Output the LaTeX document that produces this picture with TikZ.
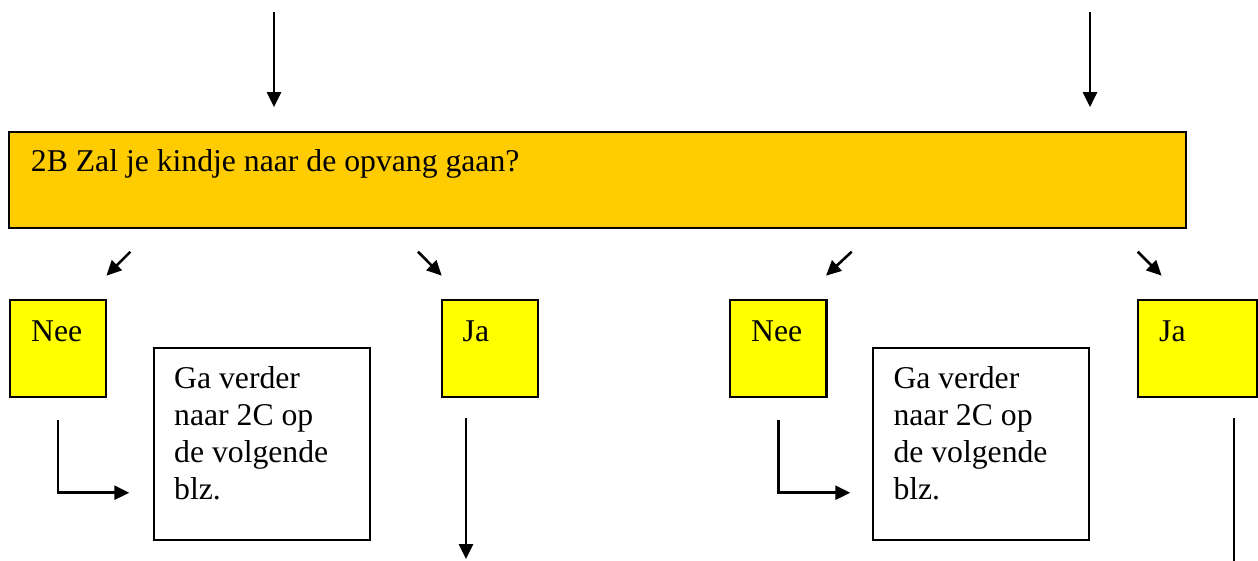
\documentclass[tikz,border=0pt]{standalone}
\usepackage{fontspec}
\setmainfont{Liberation Serif}
\usetikzlibrary{arrows.meta}
\definecolor{orangebox}{HTML}{FFCC00}
\definecolor{yellowbox}{HTML}{FFFF00}
\begin{document}
\begin{tikzpicture}[x=1pt,y=-1pt,
  boxbase/.style={draw=black, line width=2.2pt, rectangle, inner sep=0pt, outer sep=0pt},
  qbox/.style={boxbase, fill=orangebox, minimum width=1176.7pt, minimum height=95.7pt},
  ansbox/.style={boxbase, fill=yellowbox, minimum width=96.3pt, minimum height=96.7pt},
  infobox/.style={boxbase, fill=white, minimum width=216pt, minimum height=191.7pt},
  txt/.style={anchor=base west, inner sep=0pt, font=\fontsize{31.7pt}{37.2pt}\selectfont},
  arr/.style={line width=2.6pt, -{Triangle[length=15pt,width=14pt]}},
]
\useasboundingbox (0,0) rectangle (1258,560);
\clip (0,0) rectangle (1258,560);

% boxes
\node[qbox] (q) at (597.65,180) {};
\node[ansbox] (nee1) at (57.85,348.4) {};
\node[ansbox] (ja1) at (490,348.4) {};
\node[ansbox] (nee2) at (778.35,348.4) {};
\node[ansbox, minimum width=119.3pt] (ja2) at (1197.35,348.4) {};
\node[infobox] (ga1) at (262,444.2) {};
\node[infobox] (ga2) at (981.3,444.2) {};

% texts
\node[txt] (qtext) at (30.7,171.7) {2B Zal je kindje naar de opvang gaan?};
\node[txt] (nee1t) at (31,341) {Nee};
\node[txt] (ja1t) at (462.5,341) {Ja};
\node[txt] (nee2t) at (751,341) {Nee};
\node[txt] (ja2t) at (1159,341) {Ja};
\node[txt] (ga1t) at (174,388.3) {\vtop{\hbox{Ga verder}\hbox{naar 2C op}\hbox{de volgende}\hbox{blz.}}};
\node[txt] (ga2t) at (893.3,388.3) {\vtop{\hbox{Ga verder}\hbox{naar 2C op}\hbox{de volgende}\hbox{blz.}}};

% top arrows
\coordinate (top1) at (274,12);
\coordinate (top2) at (1090,12);
\draw[arr, shorten >=25pt] (top1) -- (top1 |- q.north);
\draw[arr, shorten >=25pt] (top2) -- (top2 |- q.north);

% diagonal arrows
\coordinate (d1a) at (130.4,251.7); \coordinate (d1b) at (106.4,275.7);
\coordinate (d2a) at (417.9,251.7); \coordinate (d2b) at (441.8,275.7);
\coordinate (d3a) at (851.7,251.7); \coordinate (d3b) at (826,275.7);
\coordinate (d4a) at (1137.7,251.7); \coordinate (d4b) at (1161.6,275.7);
\draw[arr] (d1a) -- (d1b);
\draw[arr] (d2a) -- (d2b);
\draw[arr] (d3a) -- (d3b);
\draw[arr] (d4a) -- (d4b);

% elbow connectors Nee -> Ga
\draw[arr, shorten <=23.3pt, shorten >=24.7pt] (nee1.south) |- ([yshift=-48.5pt]ga1.west);
\draw[arr, shorten <=23.3pt, shorten >=23pt] (nee2.south) |- ([yshift=-48.5pt]ga2.west);

% Ja down arrows
\coordinate (j1end) at (466,559);
\coordinate (j2end) at (1234,590);
\draw[arr, shorten <=21pt] (ja1.south -| j1end) -- (j1end);
\draw[arr, shorten <=21pt] (ja2.south -| j2end) -- (j2end);
\end{tikzpicture}
\end{document}
